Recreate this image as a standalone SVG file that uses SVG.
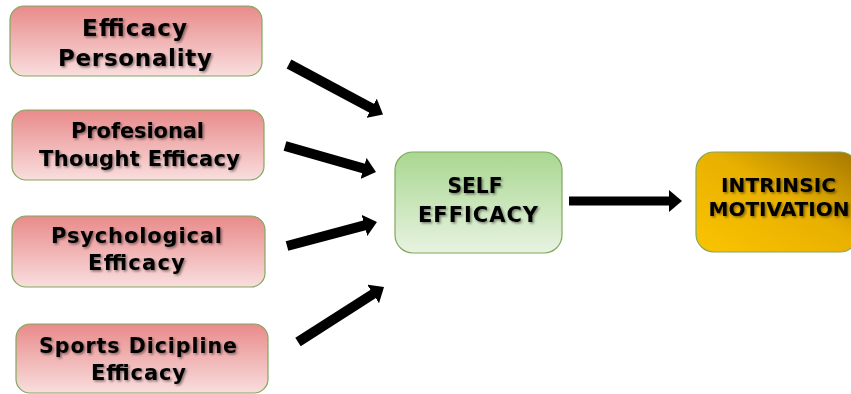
<svg xmlns="http://www.w3.org/2000/svg" width="851" height="394" viewBox="0 0 851 394">
<style>
.red{fill:url(#gRed);stroke:#82A85E;stroke-width:1.2}
.green{fill:url(#gGreen);stroke:#82A85E;stroke-width:1.2}
.gold{fill:url(#gGold);stroke:#82A85E;stroke-width:1.2}
text{font-family:"DejaVu Sans","Open Sans",sans-serif;font-weight:bold;fill:#000;text-anchor:middle;filter:url(#sh)}
.c{stroke:#000;stroke-width:10;fill:none;marker-end:url(#ah)}
</style>
<defs>
<linearGradient id="gRed" x1="0" y1="0" x2="0" y2="1"><stop offset="0" stop-color="#E98A8A"/><stop offset="1" stop-color="#F9DEDE"/></linearGradient>
<linearGradient id="gGreen" x1="0" y1="0" x2="0" y2="1"><stop offset="0" stop-color="#A9D791"/><stop offset="1" stop-color="#E8F3E1"/></linearGradient>
<linearGradient id="gGold" x1="0" y1="1" x2="1" y2="0"><stop offset="0" stop-color="#FBC400"/><stop offset="0.55" stop-color="#E8B000"/><stop offset="1" stop-color="#A47600"/></linearGradient>
<filter id="sh" x="-10%" y="-30%" width="120%" height="160%"><feDropShadow dx="1.5" dy="1.5" stdDeviation="1" flood-color="#000" flood-opacity="0.45"/></filter>
<marker id="ah" markerUnits="userSpaceOnUse" markerWidth="13" markerHeight="22" viewBox="0 0 13 22" refX="3" refY="11" orient="auto"><path d="M0,0 L13,11 L0,22 Z" fill="#000"/></marker>
</defs>
<g id="connectors">
<line class="c" x1="289" y1="64" x2="374.2" y2="109.7"/>
<line class="c" x1="285" y1="146" x2="366.4" y2="169.3"/>
<line class="c" x1="287" y1="246" x2="367.3" y2="224.6"/>
<line class="c" x1="298" y1="342" x2="375.6" y2="292.4"/>
<line class="c" style="stroke-width:9" x1="569" y1="201" x2="672" y2="201"/>
</g>
<g id="efficacy-personality">
<rect class="red" x="10" y="6" width="252" height="70" rx="14"/>
<text x="134.5" y="36" font-size="23" textLength="105" lengthAdjust="spacing">Efficacy</text>
<text x="135" y="66" font-size="23" textLength="154" lengthAdjust="spacing">Personality</text>
</g>
<g id="profesional-thought">
<rect class="red" x="12" y="110" width="252" height="70" rx="14"/>
<text x="137.5" y="138" font-size="21" textLength="133" lengthAdjust="spacing">Profesional</text>
<text x="139.5" y="166" font-size="21" textLength="201" lengthAdjust="spacing">Thought Efficacy</text>
</g>
<g id="psychological">
<rect class="red" x="12" y="216" width="253" height="71" rx="14"/>
<text x="136.5" y="243" font-size="21" textLength="171" lengthAdjust="spacing">Psychological</text>
<text x="136.5" y="270" font-size="21" textLength="97" lengthAdjust="spacing">Efficacy</text>
</g>
<g id="sports-dicipline">
<rect class="red" x="16" y="324" width="252" height="69" rx="14"/>
<text x="138" y="353" font-size="20.5" textLength="198" lengthAdjust="spacing">Sports Dicipline</text>
<text x="138.5" y="380" font-size="21" textLength="95" lengthAdjust="spacing">Efficacy</text>
</g>
<g id="self-efficacy">
<rect class="green" x="395" y="152" width="167" height="101" rx="18"/>
<text x="475" y="193" font-size="21" textLength="55" lengthAdjust="spacingAndGlyphs">SELF</text>
<text x="478" y="222" font-size="21" textLength="120" lengthAdjust="spacing">EFFICACY</text>
</g>
<g id="intrinsic-motivation">
<rect class="gold" x="696" y="152" width="162" height="100" rx="18"/>
<text x="778.5" y="192" font-size="20" textLength="115" lengthAdjust="spacing">INTRINSIC</text>
<text x="779" y="216" font-size="20" textLength="141" lengthAdjust="spacingAndGlyphs">MOTIVATION</text>
</g>
</svg>
